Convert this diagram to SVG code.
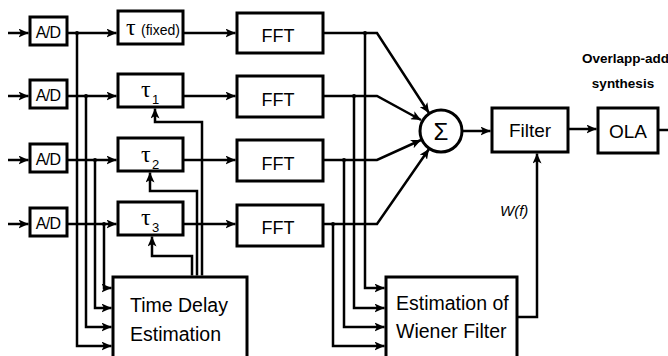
<svg xmlns="http://www.w3.org/2000/svg" width="668" height="356" viewBox="0 0 668 356">
<style>
.box{fill:#fff;stroke:#000;stroke-width:3}
.ln{fill:none;stroke:#000;stroke-width:2.5;stroke-linejoin:miter}
.arr{marker-end:url(#ah)}
.t{font-family:"Liberation Sans",Arial,sans-serif;fill:#000}
.c{text-anchor:middle}
.ad{font-family:"Liberation Sans",Arial,sans-serif;font-size:16px;text-anchor:middle;letter-spacing:-0.8px}
.tau{font-family:"Liberation Serif","Times New Roman",serif;font-size:24px}
.sub{font-family:"Liberation Sans",Arial,sans-serif;font-size:13px}
.dot{fill:#000}
</style>
<defs>
<marker id="ah" markerWidth="11" markerHeight="9" refX="10" refY="4.5" orient="auto" markerUnits="userSpaceOnUse">
<path d="M0,0 L10,4.5 L0,9 L2.5,4.5 z" fill="#000"/>
</marker>
</defs>
<rect width="668" height="356" fill="#fff"/>

<g id="connectors">
<path class="ln arr" d="M8,33 H28.5"/>
<path class="ln arr" d="M8,96 H28.5"/>
<path class="ln arr" d="M8,160 H28.5"/>
<path class="ln arr" d="M8,224 H28.5"/>
<path class="ln arr" d="M67,33 H116.5"/>
<path class="ln arr" d="M67,96 H116.5"/>
<path class="ln arr" d="M67,160 H116.5"/>
<path class="ln arr" d="M67,224 H116.5"/>
<path class="ln arr" d="M183,33 H235.5"/>
<path class="ln arr" d="M183,96 H235.5"/>
<path class="ln arr" d="M183,160 H235.5"/>
<path class="ln arr" d="M183,224 H235.5"/>
<path class="ln arr" d="M77,33 V346 H111.5"/>
<path class="ln arr" d="M86,96 V327 H111.5"/>
<path class="ln arr" d="M95,160 V308 H111.5"/>
<path class="ln arr" d="M104,224 V288 H111.5"/>
<path class="ln arr" d="M202,275.5 V122 H155 V108.5"/>
<path class="ln arr" d="M197,275.5 V191 H150 V172.5"/>
<path class="ln arr" d="M192,275.5 V256 H152 V236.5"/>
<path class="ln arr" d="M323,33 H377 L429,113"/>
<path class="ln arr" d="M323,96 H377 L421,120"/>
<path class="ln arr" d="M323,160 H377 L421,140"/>
<path class="ln arr" d="M323,224 H377 L429,149"/>
<path class="ln arr" d="M365,33 V288 H384.5"/>
<path class="ln arr" d="M354,96 V308 H384.5"/>
<path class="ln arr" d="M344,160 V327 H384.5"/>
<path class="ln arr" d="M333,224 V346 H384.5"/>
<path class="ln arr" d="M463,131 H490.5"/>
<path class="ln arr" d="M568,129 H596.5"/>
<path class="ln" d="M658,130 H668"/>
<path class="ln arr" d="M517,317 H537 V153.5"/>
<circle class="dot" cx="77" cy="33" r="2"/>
<circle class="dot" cx="86" cy="96" r="2"/>
<circle class="dot" cx="95" cy="160" r="2"/>
<circle class="dot" cx="104" cy="224" r="2"/>
<circle class="dot" cx="365" cy="33" r="2"/>
<circle class="dot" cx="354" cy="96" r="2"/>
<circle class="dot" cx="344" cy="160" r="2"/>
<circle class="dot" cx="333" cy="224" r="2"/>
<text class="t" x="500" y="216" font-size="15" font-style="italic">W(f)</text>
</g>

<g id="ad1"><rect class="box" x="30" y="17" width="37" height="28"/><text class="ad" x="48" y="38">A/D</text></g>
<g id="ad2"><rect class="box" x="30" y="80" width="37" height="28"/><text class="ad" x="48" y="101">A/D</text></g>
<g id="ad3"><rect class="box" x="30" y="144" width="37" height="28"/><text class="ad" x="48" y="165">A/D</text></g>
<g id="ad4"><rect class="box" x="30" y="208" width="37" height="28"/><text class="ad" x="48" y="229">A/D</text></g>

<g id="tau0"><rect class="box" x="118" y="11" width="65" height="33"/><text class="tau" x="126" y="35">τ</text><text class="t" x="141" y="35" font-size="14">(fixed)</text></g>
<g id="tau1"><rect class="box" x="118" y="74" width="65" height="33"/><text class="tau" x="141" y="97">τ</text><text class="sub" x="152" y="104">1</text></g>
<g id="tau2"><rect class="box" x="118" y="138" width="65" height="33"/><text class="tau" x="141" y="162">τ</text><text class="sub" x="152" y="169">2</text></g>
<g id="tau3"><rect class="box" x="118" y="202" width="65" height="33"/><text class="tau" x="141" y="225">τ</text><text class="sub" x="152" y="232">3</text></g>

<g id="fft1"><rect class="box" x="237" y="13" width="86" height="40"/><text class="t c" x="278" y="42" font-size="18">FFT</text></g>
<g id="fft2"><rect class="box" x="237" y="76" width="86" height="41"/><text class="t c" x="278" y="106" font-size="18">FFT</text></g>
<g id="fft3"><rect class="box" x="237" y="140" width="86" height="41"/><text class="t c" x="278" y="170" font-size="18">FFT</text></g>
<g id="fft4"><rect class="box" x="237" y="205" width="86" height="41"/><text class="t c" x="278" y="234" font-size="18">FFT</text></g>

<g id="sum"><circle class="box" cx="441" cy="131" r="21"/><text class="t c" x="441" y="140" font-size="24">Σ</text></g>

<g id="filter"><rect class="box" x="492" y="108" width="76" height="44"/><text class="t c" x="530" y="137" font-size="19">Filter</text></g>

<g id="ola"><rect class="box" x="598" y="108" width="60" height="45"/><text class="t c" x="628" y="138" font-size="19">OLA</text><text class="t" x="582" y="63" font-size="13.5" font-weight="bold">Overlapp-add</text><text class="t c" x="623" y="88" font-size="13.5" font-weight="bold">synthesis</text></g>

<g id="tde"><rect class="box" x="113" y="277" width="134" height="84"/><text class="t" x="130" y="312" font-size="19.5">Time Delay</text><text class="t" x="130" y="341" font-size="19.5">Estimation</text></g>

<g id="wiener"><rect class="box" x="386" y="277" width="131" height="84"/><text class="t" x="396" y="310" font-size="19.5">Estimation of</text><text class="t" x="396" y="338" font-size="19.5">Wiener Filter</text></g>
</svg>
